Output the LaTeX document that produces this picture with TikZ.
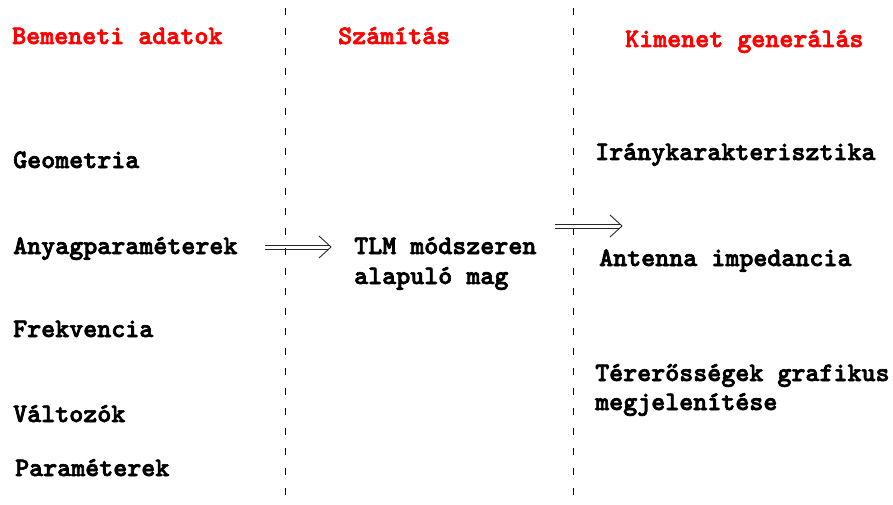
\documentclass[tikz,border=0pt]{standalone}
\usepackage{fontspec}
\newfontfamily\courbold{lmmonolt10-bold}[Extension=.otf,FakeBold=2.5]
\begin{document}
\begin{tikzpicture}[x=1pt,y=-1pt,
  lbl/.style={anchor=base west,inner sep=0pt,font=\courbold\fontsize{26.7}{30}\selectfont},
  head/.style={lbl,text=red},
  sep/.style={dash pattern=on 7pt off 13pt,line width=1pt},
  rail/.style={line width=0.9pt,black!85},
]
\useasboundingbox (0,0) rectangle (893,505);
% separators
\coordinate (s1t) at (285,8); \coordinate (s1b) at (285,505);
\coordinate (s2t) at (573,8); \coordinate (s2b) at (573,505);
\draw[sep] (s1t) -- (s1b);
\draw[sep] (s2t) -- (s2b);
% headings
\node[head] (h1) at (12,44) {Bemeneti adatok};
\node[head] (h2) at (338,44) {Számítás};
\node[head] (h3) at (625,47) {Kimenet generálás};
% inputs
\node[lbl] (geo) at (13,168) {Geometria};
\node[lbl] (anyag) at (13,254) {Anyagparaméterek};
\node[lbl] (frek) at (13,337) {Frekvencia};
\node[lbl] (valt) at (13,422) {Változók};
\node[lbl] (param) at (15,476) {Paraméterek};
% core
\node[lbl] (tlm) at (354,254) {TLM módszeren};
\node[lbl] (mag) at (354,284) {alapuló mag};
% outputs
\node[lbl] (irany) at (595,160) {Iránykarakterisztika};
\node[lbl] (imp) at (599,266) {Antenna impedancia};
\node[lbl] (ter1) at (595,381) {Térerősségek grafikus};
\node[lbl] (ter2) at (595,410) {megjelenítése};
% arrow 1
\coordinate (a1s) at (265,247); \coordinate (a1e) at (331,247);
\draw[rail] ([yshift=2pt]a1s) -- ([yshift=2pt,xshift=-2pt]a1e);
\draw[rail] ([yshift=-2pt]a1s) -- ([yshift=-2pt,xshift=-2pt]a1e);
\draw[rail] ([xshift=-12pt,yshift=11pt]a1e) -- (a1e) -- ([xshift=-12pt,yshift=-11pt]a1e);
% arrow 2
\coordinate (a2s) at (555,226); \coordinate (a2e) at (622,226);
\draw[rail] ([yshift=2pt]a2s) -- ([yshift=2pt,xshift=-2pt]a2e);
\draw[rail] ([yshift=-2pt]a2s) -- ([yshift=-2pt,xshift=-2pt]a2e);
\draw[rail] ([xshift=-12pt,yshift=11pt]a2e) -- (a2e) -- ([xshift=-12pt,yshift=-11pt]a2e);
\end{tikzpicture}
\end{document}
